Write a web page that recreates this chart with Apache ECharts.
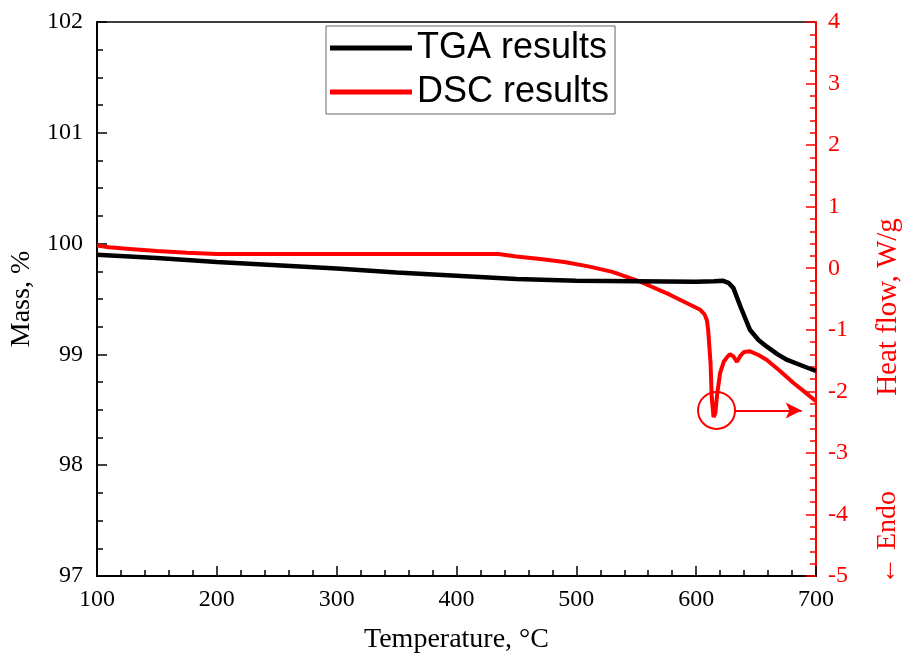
<!DOCTYPE html>
<html>
<head>
<meta charset="utf-8">
<script src="https://cdn.jsdelivr.net/npm/echarts@6/dist/echarts.min.js"></script>
<style>
html,body{margin:0;padding:0;background:#fff;}
#chart{width:903px;height:658px;}
</style>
</head>
<body>
<div id="chart"></div>
<script>
// TGA: temperature (°C) and mass (%)
const tgaTemp = [100,150,200,250,300,350,400,450,500,550,600,615,622,627,631,637,645,652,659,668,676,688,700];
const tgaMass = [99.90,99.87,99.835,99.805,99.775,99.74,99.71,99.68,99.665,99.66,99.655,99.66,99.665,99.645,99.60,99.43,99.22,99.13,99.07,99.00,98.95,98.90,98.85];

// DSC: temperature (°C) and heat flow (W/g)
const dscTemp = [100,110,130,150,175,200,300,400,435,450,470,490,510,530,551,578,603,607,609,610,612,613,614.5,616,617.5,620,623,626,628,631,634,637,640,645,652,659,670,681,690,700];
const dscHeat = [0.37,0.34,0.31,0.28,0.25,0.23,0.23,0.23,0.23,0.19,0.15,0.10,0.03,-0.06,-0.20,-0.43,-0.67,-0.75,-0.85,-1.0,-1.54,-2.1,-2.42,-2.35,-2.05,-1.70,-1.52,-1.44,-1.40,-1.43,-1.52,-1.42,-1.36,-1.35,-1.41,-1.49,-1.67,-1.86,-2.0,-2.16];

// Annotation (circle around endothermic peak and arrow to right axis)
const peakMark = [617, -2.31];
const arrowFrom = [632, -2.31];
const arrowTo = [688, -2.31];

const chart = echarts.init(document.getElementById('chart'));
const serif = 'Liberation Serif';
const tgaData = tgaTemp.map((t,i)=>[t,tgaMass[i]]);
const dscData = dscTemp.map((t,i)=>[t,dscHeat[i]]);

chart.setOption({
  animation:false,
  backgroundColor:'#fff',
  grid:{left:97,right:87,top:22,bottom:82,outerBoundsMode:'none',containLabel:false,
        show:true,borderColor:'#000',borderWidth:1.5,backgroundColor:'transparent'},
  legend:{
    orient:'vertical',left:326,top:26,
    padding:[4,6,4,4],itemGap:8,
    icon:'rect',itemWidth:82,itemHeight:5,
    borderColor:'#666',borderWidth:1,backgroundColor:'#fff',
    textStyle:{fontFamily:'Liberation Sans',fontSize:36,color:'#000'},
    data:['TGA results','DSC results']
  },
  xAxis:{
    type:'value',min:100,max:700,interval:100,
    name:'Temperature, °C',nameLocation:'middle',nameGap:50,
    nameTextStyle:{fontFamily:serif,fontSize:28,color:'#000'},
    axisLine:{onZero:false,lineStyle:{color:'#000',width:2}},
    axisTick:{inside:true,length:10,lineStyle:{color:'#000',width:1.5}},
    minorTick:{show:true,splitNumber:5,length:6,lineStyle:{color:'#000',width:1.5}},
    axisLabel:{fontFamily:serif,fontSize:24,color:'#000',margin:12},
    splitLine:{show:false}
  },
  yAxis:[{
    type:'value',min:97,max:102,interval:1,position:'left',
    name:'Mass, %',nameLocation:'middle',nameGap:53,
    nameTextStyle:{fontFamily:serif,fontSize:28,color:'#000'},
    axisLine:{show:true,onZero:false,lineStyle:{color:'#000',width:2}},
    axisTick:{show:true,inside:true,length:10,lineStyle:{color:'#000',width:1.5}},
    minorTick:{show:true,splitNumber:4,length:6,lineStyle:{color:'#000',width:1.5}},
    axisLabel:{fontFamily:serif,fontSize:24,color:'#000',margin:14},
    splitLine:{show:false}
  },{
    type:'value',min:-5,max:4,interval:1,position:'right',
    name:'Heat flow, W/g',nameLocation:'middle',nameGap:58,nameRotate:90,
    nameTextStyle:{fontFamily:serif,fontSize:29,color:'#f00',padding:[0,16,0,0]},
    axisLine:{show:true,onZero:false,lineStyle:{color:'#f00',width:2}},
    axisTick:{show:true,inside:true,length:10,lineStyle:{color:'#f00',width:1.5}},
    minorTick:{show:true,splitNumber:5,length:6,lineStyle:{color:'#f00',width:1.5}},
    axisLabel:{fontFamily:serif,fontSize:24,color:'#f00',margin:12},
    splitLine:{show:false}
  }],
  series:[{
    name:'TGA results',type:'line',yAxisIndex:0,data:tgaData,
    showSymbol:false,symbol:'none',
    lineStyle:{color:'#000',width:4.5},itemStyle:{color:'#000'},z:3
  },{
    name:'DSC results',type:'line',yAxisIndex:1,data:dscData,
    showSymbol:false,symbol:'none',
    lineStyle:{color:'#f00',width:4},itemStyle:{color:'#f00'},z:2,
    markPoint:{
      silent:true,symbol:'circle',symbolSize:37,
      itemStyle:{color:'rgba(0,0,0,0)',borderColor:'#f00',borderWidth:2},
      label:{show:false},
      data:[{coord:peakMark}]
    },
    markLine:{
      silent:true,symbol:['none','arrow'],symbolSize:[12,16],
      lineStyle:{color:'#f00',width:2,type:'solid'},
      label:{show:false},
      data:[[{coord:arrowFrom},{coord:arrowTo}]]
    }
  }],
  graphic:[{
    type:'text',x:888,y:538,rotation:Math.PI/2,
    style:{text:'← Endo',x:0,y:0,align:'center',verticalAlign:'middle',
           font:'28px "Liberation Serif"',fill:'#f00'}
  }]
});
</script>
</body>
</html>
